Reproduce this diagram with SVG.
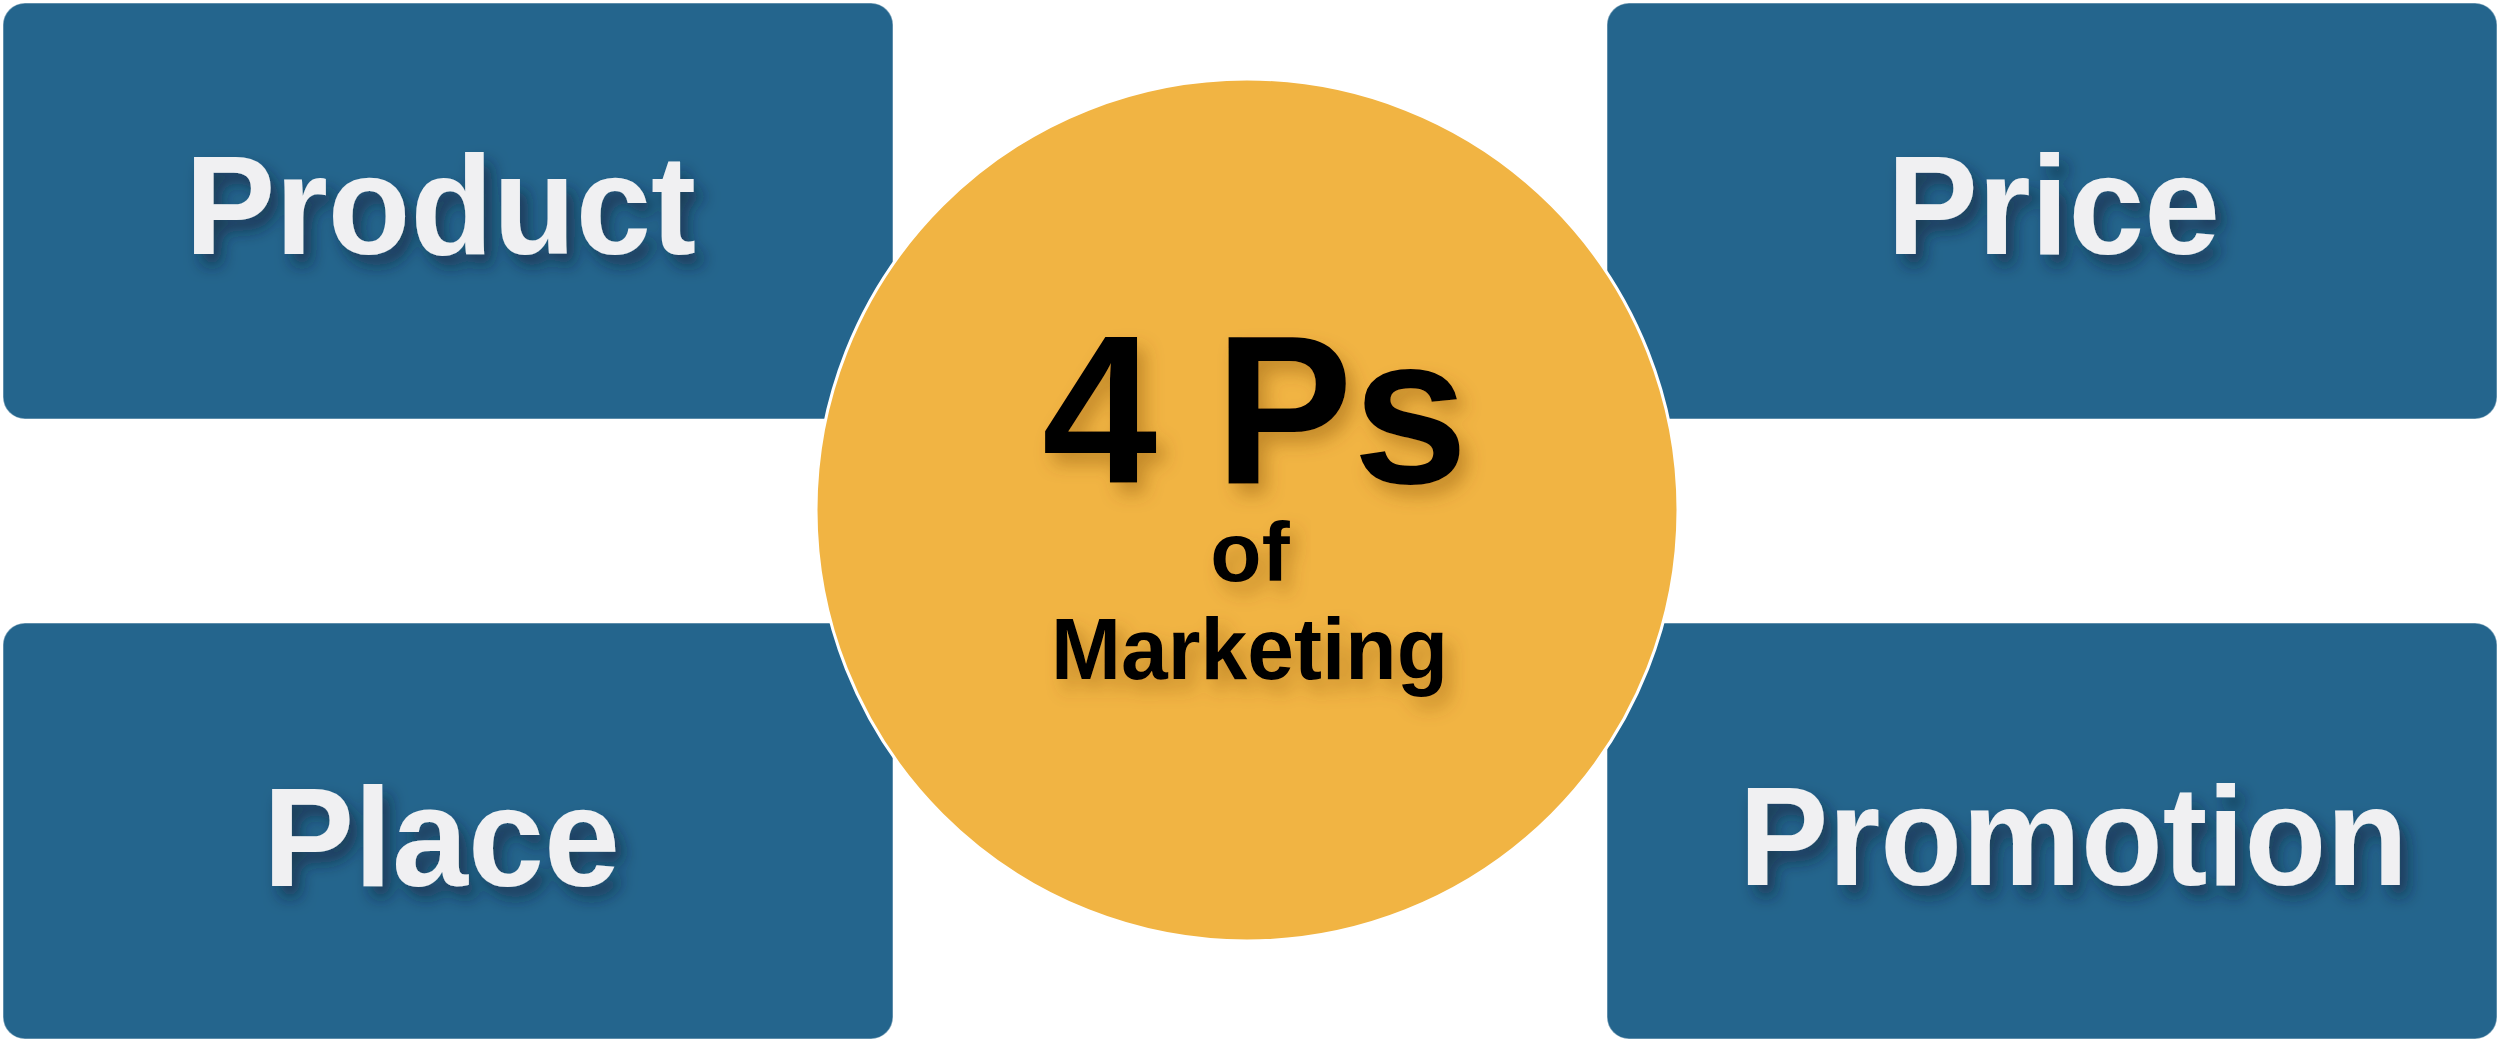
<svg xmlns="http://www.w3.org/2000/svg" width="2500" height="1042" viewBox="0 0 2500 1042">
  <defs>
    <filter id="shadowBlue" x="-15%" y="-40%" width="140%" height="190%">
      <feDropShadow dx="8" dy="11" stdDeviation="8" flood-color="#0b2436" flood-opacity="0.6"/>
    </filter>
    <filter id="shadowOrange" x="-15%" y="-40%" width="140%" height="190%">
      <feDropShadow dx="8" dy="11" stdDeviation="9" flood-color="#7a4a00" flood-opacity="0.38"/>
    </filter>
  </defs>
  <style>
    .box { fill: #24658D; stroke: #ffffff; stroke-opacity: 0.35; stroke-width: 1.5; }
    .lbl { font-family: "Liberation Sans", Arial, sans-serif; font-weight: bold; font-size: 141px; fill: #F0F0F2; filter: url(#shadowBlue); }
    .ctr { font-family: "Liberation Sans", Arial, sans-serif; font-weight: bold; fill: #000000; filter: url(#shadowOrange); }
    .hub { fill: #F1B443; stroke: #ffffff; stroke-width: 3; }
  </style>
  <rect width="2500" height="1042" fill="#ffffff"/>

  <g id="node-product">
    <rect class="box" x="3" y="3" width="890" height="416" rx="22" ry="22"/>
    <text class="lbl" x="185" y="254" textLength="511" lengthAdjust="spacingAndGlyphs">Product</text>
  </g>

  <g id="node-price">
    <rect class="box" x="1607" y="3" width="890" height="416" rx="22" ry="22"/>
    <text class="lbl" x="1887" y="254" textLength="333" lengthAdjust="spacingAndGlyphs">Price</text>
  </g>

  <g id="node-place">
    <rect class="box" x="3" y="623" width="890" height="416" rx="22" ry="22"/>
    <text class="lbl" x="263" y="886" textLength="357" lengthAdjust="spacingAndGlyphs">Place</text>
  </g>

  <g id="node-promotion">
    <rect class="box" x="1607" y="623" width="890" height="416" rx="22" ry="22"/>
    <text class="lbl" x="1739" y="885" textLength="669" lengthAdjust="spacingAndGlyphs">Promotion</text>
  </g>

  <g id="connectors"></g>

  <g id="node-center">
    <circle class="hub" cx="1247" cy="510" r="431"/>
    <text class="ctr" x="1042" y="483" font-size="211" textLength="426" lengthAdjust="spacingAndGlyphs">4 Ps</text>
    <text class="ctr" x="1250" y="581" font-size="84" text-anchor="middle">of</text>
    <text class="ctr" x="1051" y="679" font-size="87" textLength="397" lengthAdjust="spacingAndGlyphs">Marketing</text>
  </g>
</svg>
